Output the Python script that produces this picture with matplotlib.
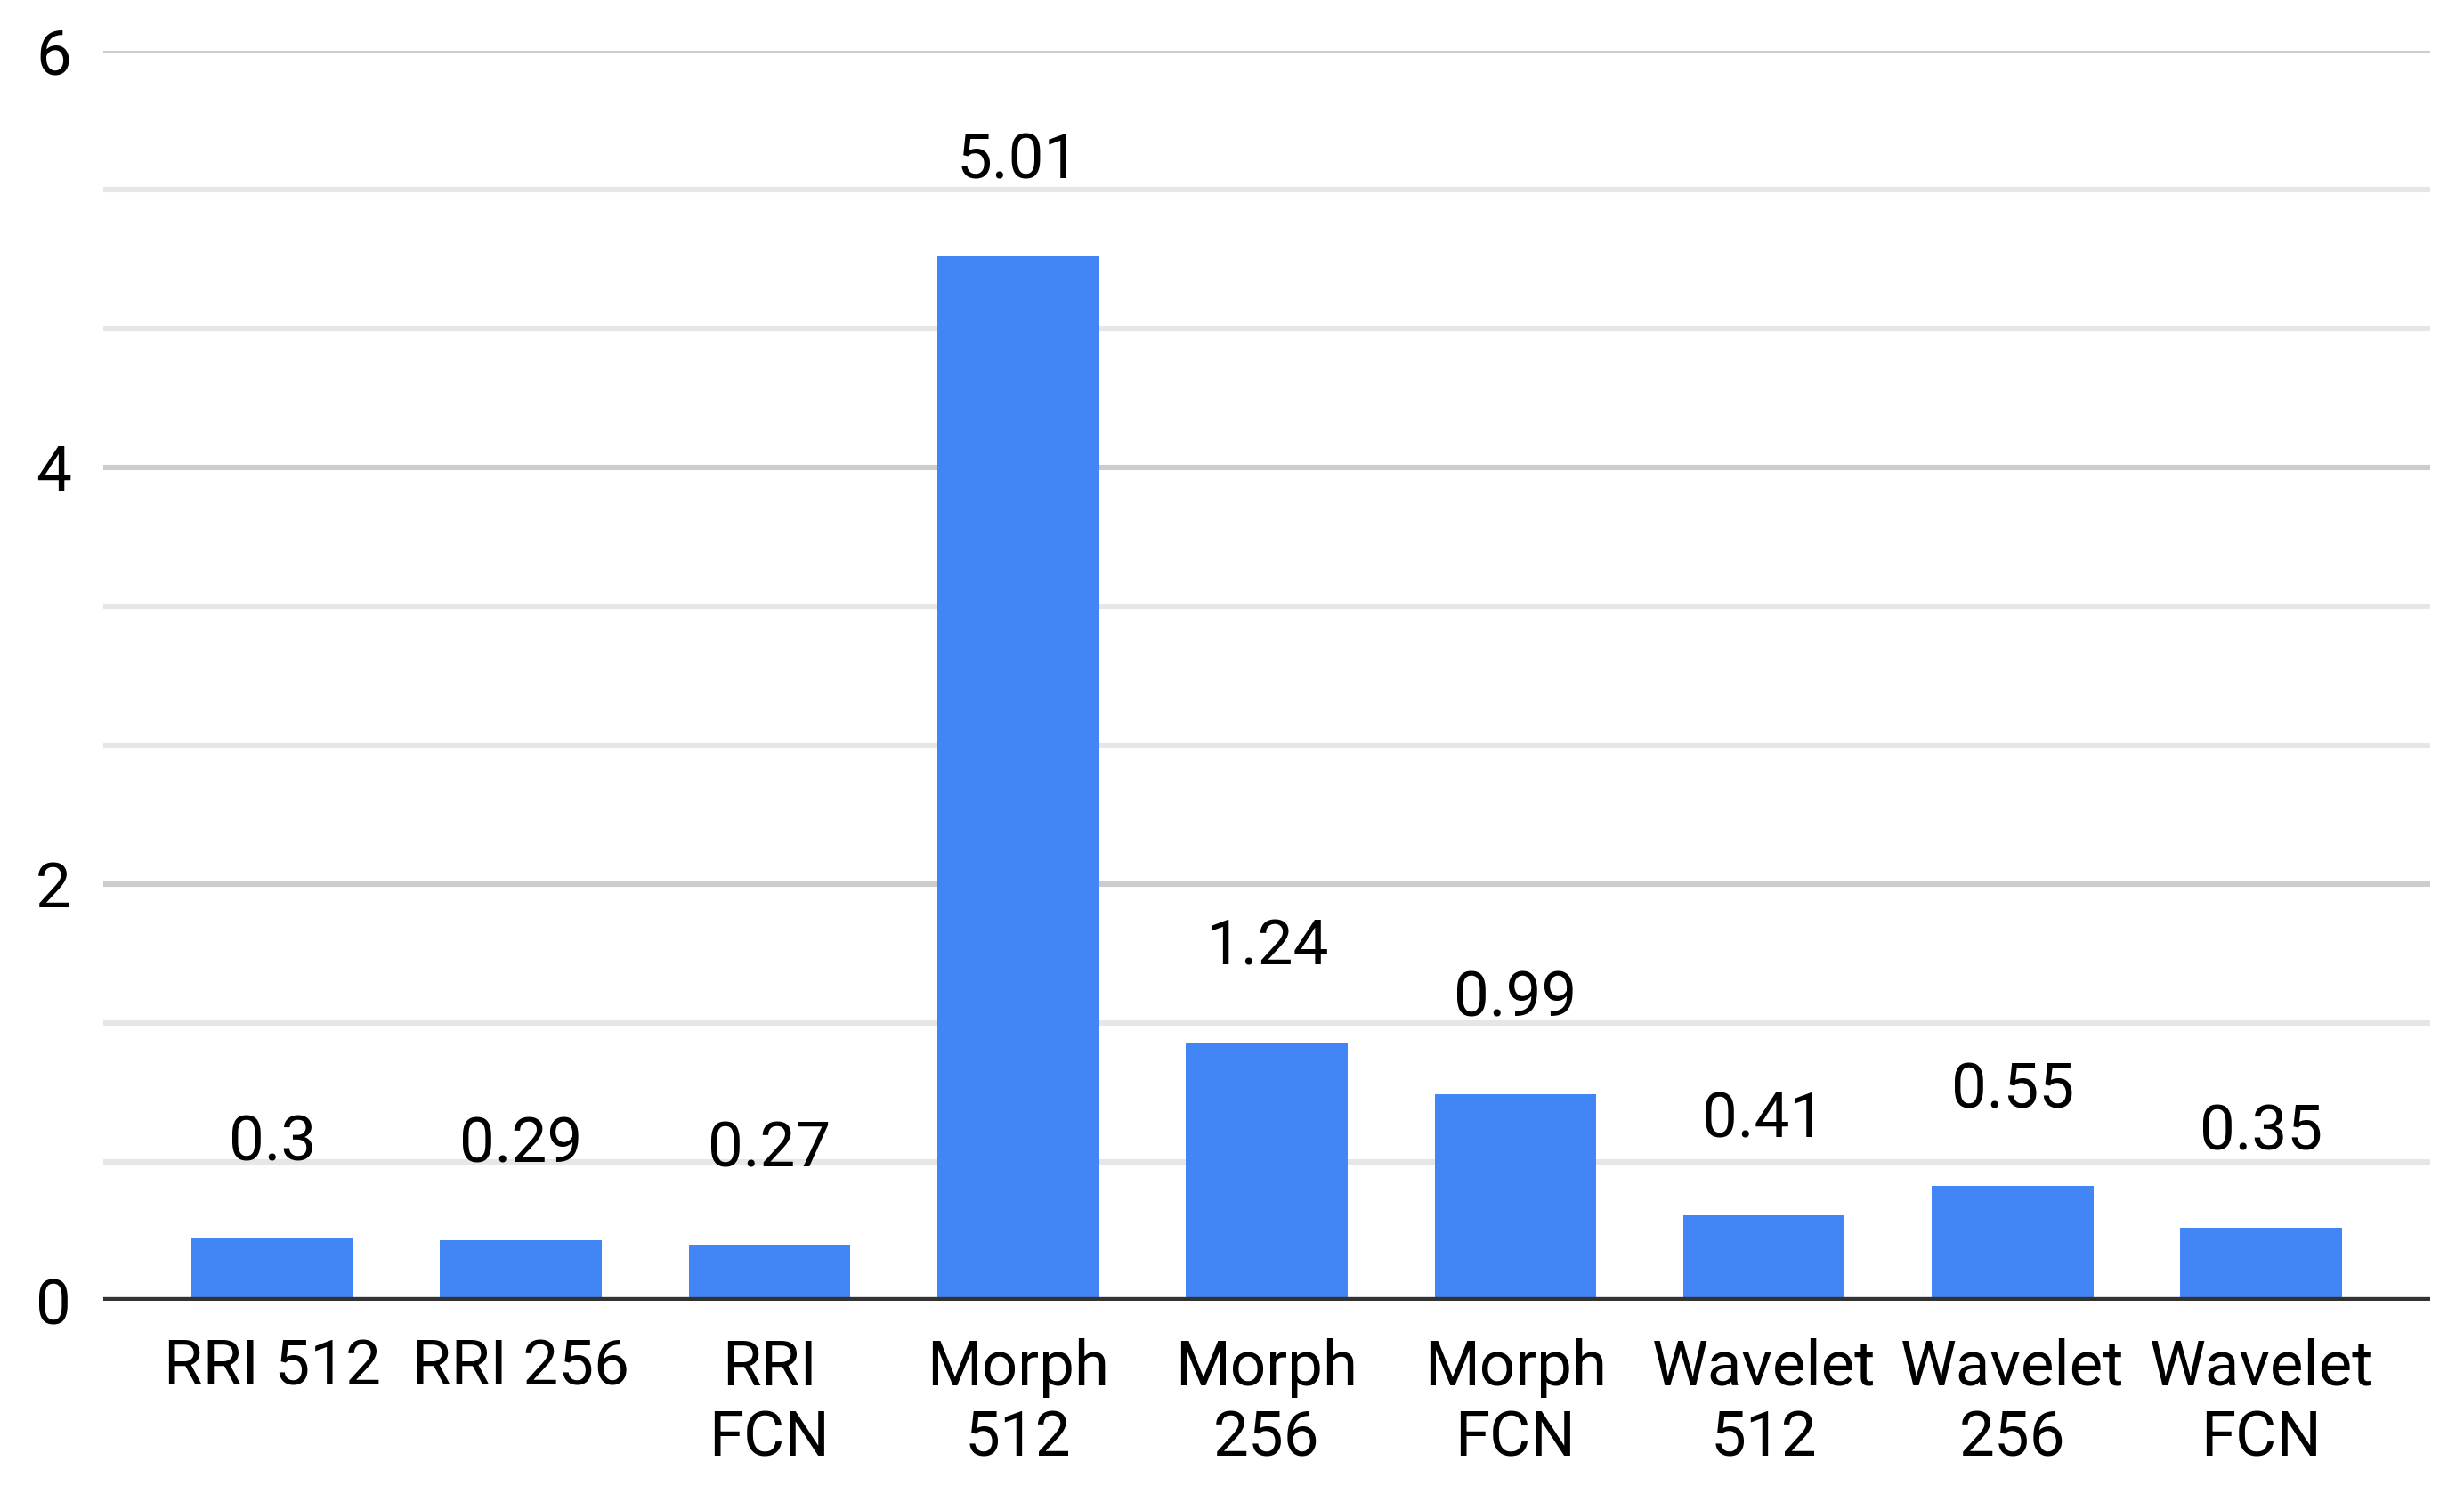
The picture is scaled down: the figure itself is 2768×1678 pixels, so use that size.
import matplotlib.pyplot as plt
import numpy as np

plt.rcParams['font.family'] = ['Roboto', 'DejaVu Sans']

# data
categories = ['RRI 512', 'RRI 256', 'RRI\nFCN', 'Morph\n512', 'Morph\n256',
              'Morph\nFCN', 'Wavelet\n512', 'Wavelet\n256', 'Wavelet\nFCN']
values = [0.3, 0.29, 0.27, 5.01, 1.24, 0.99, 0.41, 0.55, 0.35]
value_labels = ['0.3', '0.29', '0.27', '5.01', '1.24', '0.99', '0.41', '0.55', '0.35']
major_ticks = [0, 2, 4, 6]

fig = plt.figure(figsize=(13.84, 8.39), dpi=200)
ax = fig.add_axes([0.0419, 0.1293, 0.9444, 0.837])

x = np.arange(len(categories))
ax.bar(x, values, width=0.65, color='#4285F4', zorder=3)

for xi, v, lab in zip(x, values, value_labels):
    ax.annotate(lab, (xi, v), xytext=(0, 38.5), textcoords='offset points',
                ha='center', va='center', fontsize=25.5, color='black', zorder=4)

ax.set_xlim(-0.68, 8.68)
ax.set_ylim(0, 6)

# gridlines: major every 2, minor every 2/3
for g in np.arange(0, 6.01, 2 / 3):
    if abs(round(g) - g) < 1e-6 and int(round(g)) in major_ticks:
        continue
    ax.axhline(g, color='#e6e6e6', lw=2.2, zorder=1)
for g in major_ticks[1:]:
    ax.axhline(g, color='#cccccc', lw=2.2, zorder=1)
ax.axhline(0, color='#333333', lw=3.0, zorder=5)

ax.set_yticks(major_ticks)
ax.set_yticklabels([str(t) for t in major_ticks])
ax.set_xticks(x)
ax.set_xticklabels(categories, linespacing=1.25)
ax.tick_params(axis='both', length=0, labelsize=25.5)
ax.tick_params(axis='y', pad=13)
ax.tick_params(axis='x', pad=15)

for s in ax.spines.values():
    s.set_visible(False)

fig.savefig('out.png', dpi=200, facecolor='white')
